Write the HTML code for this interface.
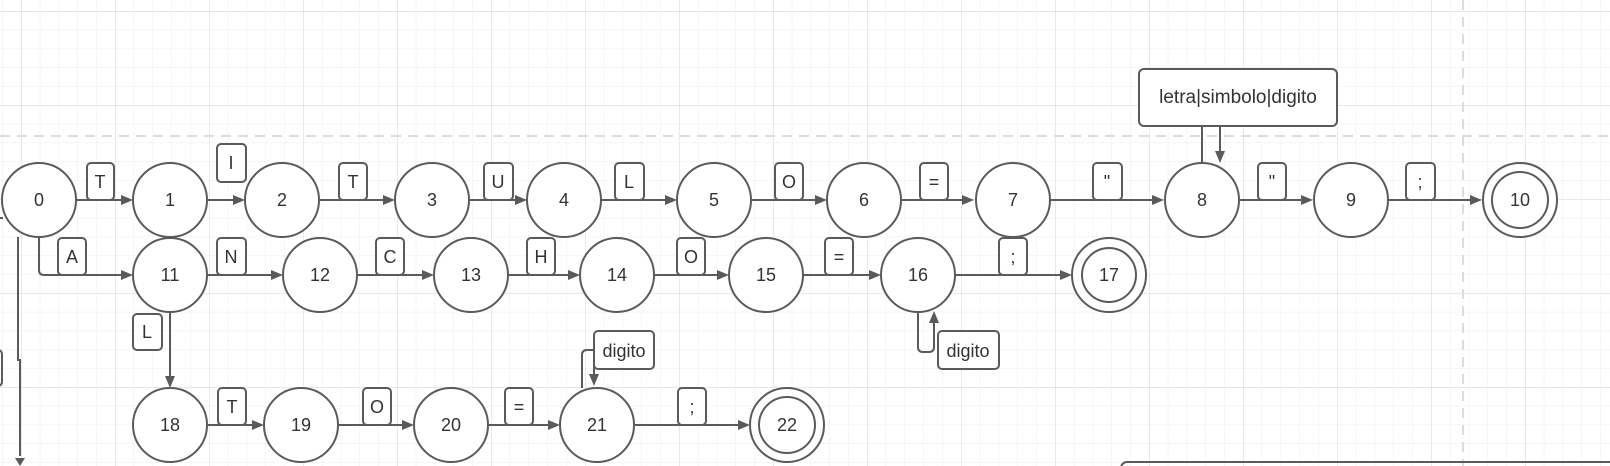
<!DOCTYPE html>
<html><head><meta charset="utf-8"><style>
html,body{margin:0;padding:0;background:#fff;overflow:hidden;}
svg{display:block;}
text{font-family:"Liberation Sans",sans-serif;fill:#333;}
</style></head><body>
<svg width="1610" height="466" viewBox="0 0 1610 466" xmlns="http://www.w3.org/2000/svg">
<defs>
<pattern id="minor" x="21" y="11" width="18.8" height="18.8" patternUnits="userSpaceOnUse">
<path d="M0 0H18.8M0 0V18.8" stroke="#ececec" stroke-width="1" fill="none"/>
</pattern>
<pattern id="major" x="21" y="11" width="94" height="94" patternUnits="userSpaceOnUse">
<path d="M0 0H94M0 0V94" stroke="#dadada" stroke-width="1.2" fill="none"/>
</pattern>
</defs>
<rect width="1610" height="466" fill="#fff"/>
<rect width="1610" height="466" fill="url(#minor)"/>
<rect width="1610" height="466" fill="url(#major)"/>
<line x1="0" y1="136" x2="1610" y2="136" stroke="#dcdcdc" stroke-width="2" stroke-dasharray="10,7"/>
<line x1="1463" y1="0" x2="1463" y2="466" stroke="#dcdcdc" stroke-width="2" stroke-dasharray="10,7"/>

<g stroke="#5a5a5a" stroke-width="2" fill="none">
<path d="M76 200H123M207 200H235M319 200H385M469 200H517M601 200H667M751 200H817M901 200H964M1051 200H1154M1239 200H1303M1388 200H1472"/>
<path d="M39 237V270Q39 275 44 275H123M207 275H273M357 275H424M508 275H570M654 275H719M803 275H871M955 275H1062"/>
<path d="M170 312V378M207 425H254M338 425H404M488 425H550M634 425H740"/>
<path d="M18 237V360H20V456M0 218H3"/>
<path d="M582 388V355Q582 350 587 350H594V376"/>
<path d="M918 312V347Q918 352 923 352H929Q934 352 934 347V322"/>
<path d="M1202 163V126M1220 126V153"/>
<rect x="1121" y="462" width="520" height="30" rx="6"/>
<rect x="-10" y="350" width="12" height="36" rx="4"/>
</g>
<g fill="#5a5a5a">
<polygon points="133,200 121,195 121,205"/><polygon points="245,200 233,195 233,205"/><polygon points="395,200 383,195 383,205"/><polygon points="527,200 515,195 515,205"/><polygon points="677,200 665,195 665,205"/><polygon points="827,200 815,195 815,205"/><polygon points="974,200 962,195 962,205"/><polygon points="1164,200 1152,195 1152,205"/><polygon points="1313,200 1301,195 1301,205"/><polygon points="1482,200 1470,195 1470,205"/>
<polygon points="133,275 121,270 121,280"/><polygon points="283,275 271,270 271,280"/><polygon points="434,275 422,270 422,280"/><polygon points="580,275 568,270 568,280"/><polygon points="729,275 717,270 717,280"/><polygon points="881,275 869,270 869,280"/><polygon points="1072,275 1060,270 1060,280"/>
<polygon points="170,388 165,376 175,376"/><polygon points="264,425 252,420 252,430"/><polygon points="414,425 402,420 402,430"/><polygon points="560,425 548,420 548,430"/><polygon points="750,425 738,420 738,430"/>
<polygon points="594,386 589,374 599,374"/><polygon points="934,311 929,323 939,323"/><polygon points="1220,163 1215,151 1225,151"/>
<polygon points="20,466 15,458 25,458"/>
</g>

<g stroke="#5a5a5a" stroke-width="2" fill="#fff">
<circle cx="39" cy="200" r="37"/><circle cx="170" cy="200" r="37"/><circle cx="282" cy="200" r="37"/><circle cx="432" cy="200" r="37"/><circle cx="564" cy="200" r="37"/><circle cx="714" cy="200" r="37"/><circle cx="864" cy="200" r="37"/><circle cx="1013" cy="200" r="37"/><circle cx="1202" cy="200" r="37"/><circle cx="1351" cy="200" r="37"/>
<circle cx="1520" cy="200" r="37"/><circle cx="1520" cy="200" r="28"/>
<circle cx="170" cy="275" r="37"/><circle cx="320" cy="275" r="37"/><circle cx="471" cy="275" r="37"/><circle cx="617" cy="275" r="37"/><circle cx="766" cy="275" r="37"/><circle cx="918" cy="275" r="37"/>
<circle cx="1109" cy="275" r="37"/><circle cx="1109" cy="275" r="27"/>
<circle cx="170" cy="425" r="37"/><circle cx="301" cy="425" r="37"/><circle cx="451" cy="425" r="37"/><circle cx="597" cy="425" r="37"/>
<circle cx="787" cy="425" r="37"/><circle cx="787" cy="425" r="28"/>
</g>
<g font-size="18" text-anchor="middle">
<text x="39" y="206">0</text><text x="170" y="206">1</text><text x="282" y="206">2</text><text x="432" y="206">3</text><text x="564" y="206">4</text><text x="714" y="206">5</text><text x="864" y="206">6</text><text x="1013" y="206">7</text><text x="1202" y="206">8</text><text x="1351" y="206">9</text><text x="1520" y="206">10</text>
<text x="170" y="281">11</text><text x="320" y="281">12</text><text x="471" y="281">13</text><text x="617" y="281">14</text><text x="766" y="281">15</text><text x="918" y="281">16</text><text x="1109" y="281">17</text>
<text x="170" y="431">18</text><text x="301" y="431">19</text><text x="451" y="431">20</text><text x="597" y="431">21</text><text x="787" y="431">22</text>
</g>

<g stroke="#5a5a5a" stroke-width="2" fill="#fff">
<rect x="87" y="163" width="27" height="37" rx="4"/><rect x="217" y="144" width="29" height="38" rx="4"/><rect x="339" y="163" width="28" height="37" rx="4"/><rect x="484" y="163" width="29" height="37" rx="4"/><rect x="615" y="163" width="29" height="37" rx="4"/><rect x="775" y="163" width="28" height="37" rx="4"/><rect x="920" y="163" width="28" height="37" rx="4"/><rect x="1093" y="163" width="29" height="37" rx="4"/><rect x="1258" y="163" width="28" height="37" rx="4"/><rect x="1406" y="163" width="29" height="37" rx="4"/>
<rect x="58" y="238" width="28" height="37" rx="4"/><rect x="217" y="238" width="29" height="37" rx="4"/><rect x="376" y="238" width="28" height="37" rx="4"/><rect x="527" y="238" width="28" height="37" rx="4"/><rect x="677" y="238" width="28" height="37" rx="4"/><rect x="825" y="238" width="28" height="37" rx="4"/><rect x="999" y="238" width="28" height="37" rx="4"/>
<rect x="133" y="314" width="29" height="36" rx="4"/>
<rect x="218" y="388" width="28" height="37" rx="4"/><rect x="363" y="388" width="28" height="37" rx="4"/><rect x="505" y="388" width="28" height="37" rx="4"/><rect x="678" y="388" width="28" height="37" rx="4"/>
<rect x="594" y="331" width="60" height="38" rx="4"/><rect x="938" y="331" width="61" height="38" rx="4"/>
<rect x="1139" y="69" width="198" height="57" rx="5"/>
</g>
<g font-size="18" text-anchor="middle">
<text x="100" y="188">T</text><text x="231" y="169">I</text><text x="353" y="188">T</text><text x="498" y="188">U</text><text x="629" y="188">L</text><text x="789" y="188">O</text><text x="934" y="188">=</text><text x="1107" y="188">"</text><text x="1272" y="188">"</text><text x="1420" y="188">;</text>
<text x="72" y="263">A</text><text x="231" y="263">N</text><text x="390" y="263">C</text><text x="541" y="263">H</text><text x="691" y="263">O</text><text x="839" y="263">=</text><text x="1013" y="263">;</text>
<text x="147" y="338">L</text>
<text x="232" y="413">T</text><text x="377" y="413">O</text><text x="519" y="413">=</text><text x="692" y="413">;</text>
<text x="624" y="357" font-size="18">digito</text><text x="968" y="357" font-size="18">digito</text>
<text x="1238" y="103" font-size="19">letra|simbolo|digito</text>
</g>
</svg>
</body></html>
